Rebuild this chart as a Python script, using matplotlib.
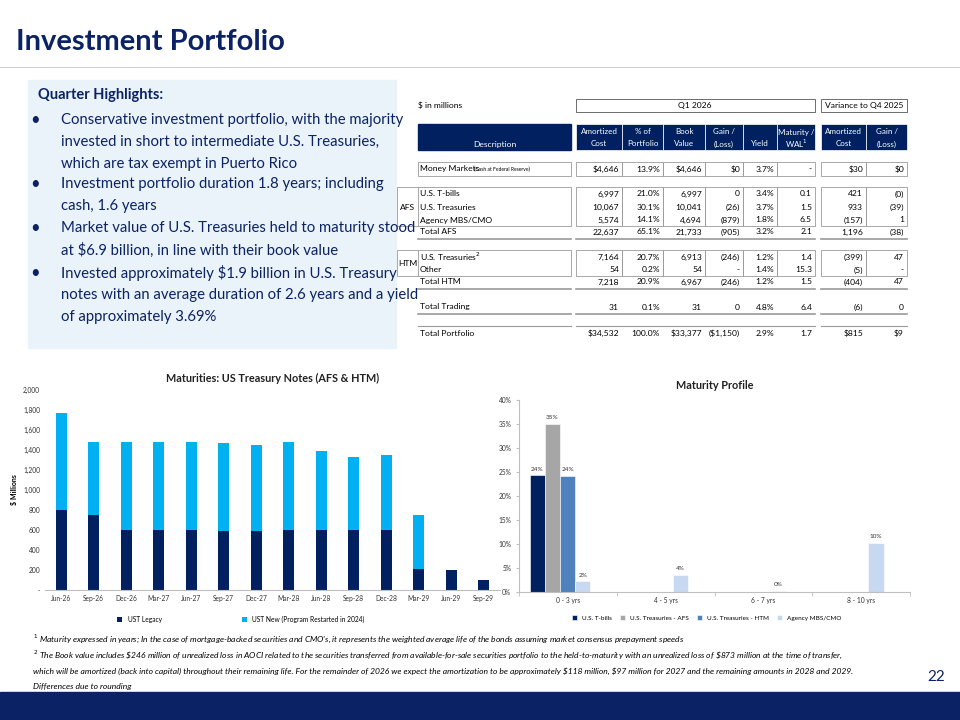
import matplotlib.pyplot as plt
import numpy as np
from matplotlib.patches import Rectangle

plt.rcParams["font.family"] = ["Lato", "DejaVu Sans"]

# ---- data ----
periods = ["Jun-26", "Sep-26", "Dec-26", "Mar-27", "Jun-27", "Sep-27", "Dec-27",
           "Mar-28", "Jun-28", "Sep-28", "Dec-28", "Mar-29", "Jun-29", "Sep-29"]
ust_legacy = [800, 755, 605, 600, 600, 595, 595, 597, 605, 600, 600, 210, 205, 100]
ust_new = [970, 730, 875, 885, 878, 880, 855, 881, 783, 730, 750, 540, 0, 0]

buckets = ["0 - 3 yrs", "4 - 5 yrs", "6 - 7 yrs", "8 - 10 yrs"]
tbills = [24.3, 0, 0, 0]
treas_afs = [35.0, 0, 0, 0]
treas_htm = [24.1, 0, 0, 0]
agency = [2.2, 3.5, 0.2, 10.3]
profile_labels = [["24%", "", "", ""], ["35%", "", "", ""],
                  ["24%", "", "", ""], ["2%", "4%", "0%", "10%"]]

col_heads = [("Amortized", "Cost"), ("% of", "Portfolio"), ("Book", "Value"),
             ("Gain /", "(Loss)"), ("", "Yield"), ("Maturity /", "WAL$^1$"),
             ("Amortized", "Cost"), ("Gain /", "(Loss)")]
rows = [
    ("Money Markets", ["$4,646", "13.9%", "$4,646", "$0", "3.7%", "-", "$30", "$0"]),
    ("U.S. T-bills", ["6,997", "21.0%", "6,997", "0", "3.4%", "0.1", "421", "(0)"]),
    ("U.S. Treasuries", ["10,067", "30.1%", "10,041", "(26)", "3.7%", "1.5", "933", "(39)"]),
    ("Agency MBS/CMO", ["5,574", "14.1%", "4,694", "(879)", "1.8%", "6.5", "(157)", "1"]),
    ("Total AFS", ["22,637", "65.1%", "21,733", "(905)", "3.2%", "2.1", "1,196", "(38)"]),
    ("U.S. Treasuries$^2$", ["7,164", "20.7%", "6,913", "(246)", "1.2%", "1.4", "(399)", "47"]),
    ("Other", ["54", "0.2%", "54", "-", "1.4%", "15.3", "(5)", "-"]),
    ("Total HTM", ["7,218", "20.9%", "6,967", "(246)", "1.2%", "1.5", "(404)", "47"]),
    ("Total Trading", ["31", "0.1%", "31", "0", "4.8%", "6.4", "(6)", "0"]),
    ("Total Portfolio", ["$34,532", "100.0%", "$33,377", "($1,150)", "2.9%", "1.7", "$815", "$9"]),
]

NAVY = "#002060"
TITLE = "#0b2265"

fig = plt.figure(figsize=(9.6, 7.2), dpi=100)
bg = fig.add_axes([0, 0, 1, 1])
bg.set_xlim(0, 960)
bg.set_ylim(720, 0)
bg.axis("off")

# title and bottom band
bg.text(16, 42, "Investment Portfolio", fontsize=21, fontweight="bold", color=TITLE, va="center")
bg.plot([0, 960], [67, 67], color="#d0d0d0", lw=0.8)
bg.add_patch(Rectangle((0, 692), 960, 28, color=TITLE))

# highlights box
bg.add_patch(Rectangle((28, 80), 368, 268, color="#eaf3fa", zorder=0))
bg.text(38, 95, "Quarter Highlights:", fontsize=10.5, fontweight="bold", color=TITLE, va="center")
bullets = [
    (120, ["Conservative investment portfolio, with the majority",
           "invested in short to intermediate U.S. Treasuries,",
           "which are tax exempt in Puerto Rico"]),
    (184, ["Investment portfolio duration 1.8 years; including",
           "cash, 1.6 years"]),
    (228, ["Market value of U.S. Treasuries held to maturity stood",
           "at $6.9 billion, in line with their book value"]),
    (273, ["Invested approximately $1.9 billion in U.S. Treasury",
           "notes with an average duration of 2.6 years and a yield",
           "of approximately 3.69%"]),
]
for y0, lines in bullets:
    bg.text(30, y0, "\u2022", fontsize=12, color=TITLE, va="center")
    for i, ln in enumerate(lines):
        bg.text(61, y0 + i * 22, ln, fontsize=10.7, color=TITLE, va="center")

# ---- table ----
col_l = [576, 622, 663, 705, 743, 777, 821, 866]
col_r = [622, 663, 705, 743, 777, 815, 866, 907]
fs = 6.1
bg.text(418, 105, "$ in millions", fontsize=fs, va="center")
bg.add_patch(Rectangle((576, 99), 239, 13, fill=False, ec="#555555", lw=0.6))
bg.text(695, 105.5, "Q1 2026", fontsize=fs, ha="center", va="center")
bg.add_patch(Rectangle((821, 99), 86, 13, fill=False, ec="#555555", lw=0.6))
bg.text(864, 105.5, "Variance to Q4 2025", fontsize=fs, ha="center", va="center")

bg.add_patch(Rectangle((418, 124), 153, 26, color=NAVY))
bg.text(495, 144, "Description", fontsize=fs, color="white", ha="center", va="center")
for (a, b), l, r in zip(col_heads, col_l, col_r):
    bg.add_patch(Rectangle((l, 124), r - l, 26, color=NAVY, ec="white", lw=0.5))
    bg.text((l + r) / 2, 132, a, fontsize=5.8, color="white", ha="center", va="center")
    bg.text((l + r) / 2, 144, b, fontsize=5.8, color="white", ha="center", va="center")

row_y = [169, 194, 207, 220, 232, 257, 270, 282, 307, 333]
for (name, vals), y in zip(rows, row_y):
    bg.text(420, y, name, fontsize=fs, va="center")
    if name == "Money Markets":
        bg.text(474, y + 0.5, "(Cash at Federal Reserve)", fontsize=3.6, va="center")
    for v, r in zip(vals, col_r):
        bg.text(r - 3, y, v, fontsize=fs, ha="right", va="center")

# boxes / rules
gray = "#9a9a9a"
bg.add_patch(Rectangle((418, 162), 153, 14, fill=False, ec=gray, lw=0.6))
for l, r in zip(col_l, col_r):
    bg.add_patch(Rectangle((l, 162), r - l, 14, fill=False, ec=gray, lw=0.6))
bg.add_patch(Rectangle((397, 187), 174, 39, fill=False, ec=gray, lw=0.6))
bg.add_patch(Rectangle((397, 250), 174, 26, fill=False, ec=gray, lw=0.6))
bg.plot([418, 418], [187, 226], color=gray, lw=0.6)
bg.plot([418, 418], [250, 276], color=gray, lw=0.6)
for l, r in zip(col_l, col_r):
    bg.add_patch(Rectangle((l, 187), r - l, 39, fill=False, ec=gray, lw=0.6))
    bg.add_patch(Rectangle((l, 250), r - l, 26, fill=False, ec=gray, lw=0.6))
bg.text(408, 207, "AFS", fontsize=fs, ha="center", va="center")
bg.text(408, 263, "HTM", fontsize=fs, ha="center", va="center")
for y in [239, 289, 314]:
    for a, b in [(418, 571), (576, 815), (821, 907)]:
        bg.plot([a, b], [y, y], color=gray, lw=1.2)
for a, b in [(418, 571), (576, 815), (821, 907)]:
    bg.plot([a, b], [326, 326], color=gray, lw=0.8)

# ---- maturities chart ----
ax = fig.add_axes([45 / 960, 1 - 590 / 720, 455 / 960, 200 / 720])
x = np.arange(len(periods))
ax.bar(x, ust_legacy, width=0.35, color=NAVY, label="UST Legacy")
ax.bar(x, ust_new, width=0.35, bottom=ust_legacy, color="#00b0f0",
       label="UST New (Program Restarted in 2024)")
ax.set_xlim(-0.5, len(periods) - 0.5)
ax.set_ylim(0, 2000)
ax.set_yticks(range(0, 2001, 200))
ax.set_yticklabels(["-"] + [f"{v:,}" for v in range(200, 2001, 200)])
ax.set_xticks(x)
ax.set_xticklabels(periods)
ax.tick_params(labelsize=4.8, length=0, colors="#333333")
for s in ["top", "right", "left"]:
    ax.spines[s].set_visible(False)
ax.spines["bottom"].set_color("#bfbfbf")
ax.set_ylabel("$ Millions", fontsize=5, fontweight="bold")
ax.set_title("Maturities: US Treasury Notes (AFS & HTM)", fontsize=7.8, fontweight="bold",
             color="#222222", pad=6)
ax.legend(loc="upper center", bbox_to_anchor=(0.43, -0.1), ncol=2, fontsize=4.8,
          frameon=False, handlelength=0.8, handleheight=0.8, columnspacing=12)
# yield mini table
bg.add_patch(Rectangle((401, 416), 65, 9, fill=False, ec="#cccccc", lw=0.5))
bg.text(433.5, 420.5, "Yield", fontsize=3.8, ha="center", va="center")
bg.add_patch(Rectangle((401, 425), 32, 9, color=NAVY))
bg.add_patch(Rectangle((433, 425), 33, 9, color="#00b0f0"))
bg.text(417, 429.5, "UST Legacy", fontsize=3.8, color="white", ha="center", va="center")
bg.text(449.5, 429.5, "UST New", fontsize=3.8, color="white", ha="center", va="center")
bg.add_patch(Rectangle((401, 434), 65, 9, fill=False, ec="#cccccc", lw=0.5))
bg.text(417, 438.5, "1.25%", fontsize=3.8, ha="center", va="center")
bg.text(449.5, 438.5, "3.79%", fontsize=3.8, ha="center", va="center")

# ---- maturity profile ----
ax2 = fig.add_axes([519 / 960, 1 - 592 / 720, 391 / 960, 192 / 720])
xb = np.arange(len(buckets))
w = 0.155
series = [(tbills, NAVY, "U.S. T-bills"), (treas_afs, "#a6a6a6", "U.S. Treasuries - AFS"),
          (treas_htm, "#4f81bd", "U.S. Treasuries - HTM"), (agency, "#c6d9f1", "Agency MBS/CMO")]
for i, (vals, c, lab) in enumerate(series):
    pos = xb + (i - 1.5) * w - 0.08
    ax2.bar(pos, vals, width=w, color=c, label=lab, ec="white", lw=0.4)
    for p, v, t in zip(pos, vals, profile_labels[i]):
        if t:
            ax2.text(p, v + 0.8, t, fontsize=4.6, ha="center", va="bottom", color="#333333")
ax2.set_xlim(-0.5, 3.5)
ax2.set_ylim(0, 40)
ax2.set_yticks(range(0, 41, 5))
ax2.set_yticklabels([f"{v}%" for v in range(0, 41, 5)])
ax2.set_xticks(xb)
ax2.set_xticklabels(buckets)
ax2.set_xticks(np.arange(-0.5, 4, 1), minor=True)
ax2.tick_params(labelsize=4.8, colors="#333333")
ax2.tick_params(axis="x", which="major", length=0)
ax2.tick_params(axis="x", which="minor", length=3, color="#bfbfbf")
ax2.tick_params(axis="y", length=2, color="#bfbfbf")
for s in ["top", "right"]:
    ax2.spines[s].set_visible(False)
ax2.spines["bottom"].set_color("#bfbfbf")
ax2.spines["left"].set_color("#bfbfbf")
ax2.set_title("Maturity Profile", fontsize=7.8, fontweight="bold", color="#222222", pad=8)
ax2.legend(loc="upper center", bbox_to_anchor=(0.48, -0.09), ncol=4, fontsize=4.6,
           frameon=False, handlelength=0.8, handleheight=0.8, columnspacing=1.2)

# ---- footnotes ----
fn = 6.1
bg.text(33, 639, "$^1$ Maturity expressed in years; In the case of mortgage-backed securities and CMO's, it represents the weighted average life of the bonds assuming market consensus prepayment speeds",
        fontsize=fn, style="italic", va="center")
bg.text(33, 655, "$^2$ The Book value includes \\$246 million of unrealized loss in AOCI related to the securities transferred from available-for-sale securities portfolio to the held-to-maturity with an unrealized loss of \\$873 million at the time of transfer,",
        fontsize=fn, style="italic", va="center")
bg.text(33, 671, "which will be amortized (back into capital) throughout their remaining life. For the remainder of 2026 we expect the amortization to be approximately \\$118 million, \\$97 million for 2027 and the remaining amounts in 2028 and 2029.",
        fontsize=fn, style="italic", va="center")
bg.text(33, 686, "Differences due to rounding", fontsize=fn, style="italic", va="center")
bg.text(945, 677, "22", fontsize=11, color=TITLE, ha="right", va="center")

fig.savefig("out.png", dpi=100)
